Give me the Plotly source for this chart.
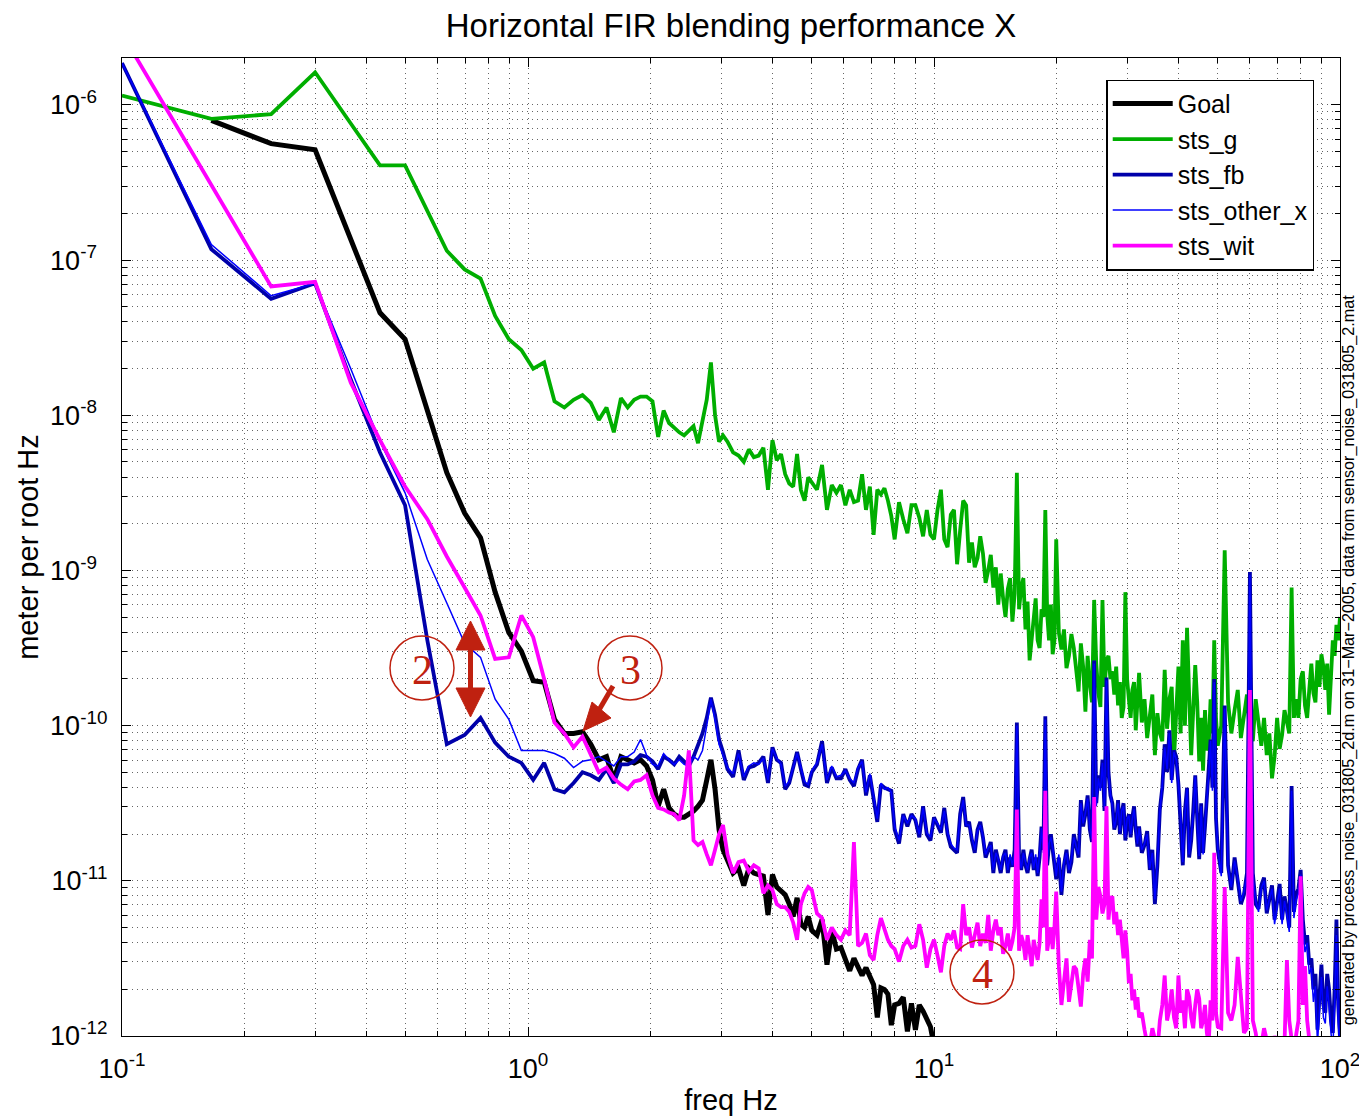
import plotly.graph_objects as go

# frequency grid in Hz (shared by all traces)
freq = [0.100, 0.166, 0.233, 0.299, 0.366, 0.432, 0.498, 0.565, 0.631, 0.698,
        0.764, 0.830, 0.897, 0.963, 1.030, 1.096, 1.162, 1.229, 1.295, 1.362,
        1.428, 1.494, 1.561, 1.627, 1.694, 1.760, 1.826, 1.893, 1.959, 2.026,
        2.092, 2.158, 2.225, 2.291, 2.358, 2.424, 2.490, 2.557, 2.623, 2.690,
        2.756, 2.822, 2.889, 2.955, 3.022,
        3.1, 3.2, 3.3, 3.4, 3.5, 3.6, 3.7, 3.8, 3.9, 4.0,
        4.1, 4.2, 4.3, 4.4, 4.5, 4.6, 4.7, 4.8, 4.9, 5.0,
        5.15, 5.3, 5.45, 5.6, 5.75, 5.9, 6.05, 6.2, 6.35, 6.5,
        6.65, 6.8, 6.95, 7.1, 7.25, 7.4, 7.55, 7.7, 7.85, 8.0,
        8.2, 8.4, 8.6, 8.8, 9.0, 9.2, 9.4, 9.6, 9.8, 10.0,
        10.2, 10.4, 10.6, 10.8, 11.0, 11.2, 11.4, 11.6, 11.8, 12.0,
        12.2, 12.4, 12.6, 12.8, 13.0, 13.2, 13.4, 13.6, 13.8, 14.0,
        14.2, 14.4, 14.6, 14.8, 15.0, 15.2, 15.4, 15.6, 15.8, 16.0,
        16.2, 16.4, 16.6, 16.8, 17.0, 17.2, 17.4, 17.6, 17.8, 18.0,
        18.2, 18.4, 18.6, 18.8, 19.0, 19.2, 19.4, 19.6, 19.8, 20.0,
        20.3, 20.6, 20.9, 21.2, 21.5, 21.8, 22.1, 22.4, 22.7, 23.0,
        23.3, 23.6, 23.9, 24.2, 24.5, 24.8, 25.1, 25.4, 25.7, 26.0,
        26.3, 26.6, 26.9, 27.2, 27.5, 27.8, 28.1, 28.4, 28.7, 29.0,
        29.3, 29.6, 29.9, 30.2, 30.5, 30.8, 31.1, 31.4, 31.7, 32.0,
        32.5, 33, 33.5, 34, 34.5, 35, 35.5, 36, 36.5, 37,
        37.5, 38, 38.5, 39, 39.5, 40, 40.5, 41, 41.5, 42,
        42.5, 43, 43.5, 44, 44.5, 45, 45.5, 46, 46.5, 47,
        47.5, 48, 48.5, 49, 49.5, 50,
        51, 52, 53, 54, 55, 56, 57, 58, 59, 60,
        61, 62, 63, 64, 65, 66, 67, 68, 69, 70,
        71, 72, 73, 74, 75, 76, 77, 78, 79, 80,
        81, 82, 83, 84, 85, 86, 87, 88, 89, 90,
        91, 92, 93, 94, 95, 96, 97, 98, 99, 100]

# spectra, stored as log10(meter/rtHz)
# Goal starts at the second frequency point
goal_exp = [-6.10, -6.25, -6.29, -6.87, -7.34, -7.51, -7.97, -8.37, -8.63, -8.79,
            -9.14, -9.40, -9.52, -9.71, -9.72, -9.96, -10.05, -10.05, -10.04, -10.12,
            -10.22, -10.20, -10.35, -10.20, -10.22, -10.24, -10.22, -10.26, -10.35, -10.52,
            -10.41, -10.53, -10.57, -10.59, -10.59, -10.57, -10.55, -10.52, -10.48, -10.35,
            -10.22, -10.41, -10.67, -10.80,
            -10.86, -10.95, -10.92, -11.03, -10.92, -10.95, -10.96, -10.97, -11.22, -10.96,
            -11.04, -11.07, -11.09, -11.15, -11.23, -11.11, -11.28, -11.30, -11.23, -11.32,
            -11.35, -11.25, -11.54, -11.32, -11.44, -11.43, -11.51, -11.58, -11.50, -11.56,
            -11.61, -11.56, -11.62, -11.67, -11.88, -11.69, -11.70, -11.73, -11.93, -11.80,
            -11.79, -11.75, -11.97, -11.79, -11.96, -11.80, -11.84, -11.90, -11.94, -12.06,
            -12.15, -12.30]

sts_g_exp = [-5.94, -6.09, -6.06, -5.79, -6.12, -6.39, -6.39, -6.68, -6.94, -7.06,
             -7.12, -7.36, -7.51, -7.58, -7.70, -7.66, -7.91, -7.95, -7.90, -7.87,
             -7.92, -8.03, -7.95, -8.11, -7.89, -7.95, -7.90, -7.88, -7.88, -7.91,
             -8.14, -7.97, -8.05, -8.08, -8.11, -8.13, -8.10, -8.07, -8.18, -8.05,
             -7.90, -7.66, -8.00, -8.17, -8.13,
             -8.17, -8.24, -8.26, -8.30, -8.22, -8.27, -8.26, -8.21, -8.48, -8.16,
             -8.29, -8.25, -8.38, -8.44, -8.46, -8.25, -8.48, -8.55, -8.40, -8.43,
             -8.48, -8.32, -8.61, -8.45, -8.50, -8.45, -8.58, -8.48, -8.56, -8.55,
             -8.38, -8.61, -8.46, -8.77, -8.48, -8.51, -8.47, -8.55, -8.65, -8.80,
             -8.56, -8.67, -8.76, -8.58, -8.58, -8.66, -8.78, -8.61, -8.77, -8.80,
             -8.61, -8.48, -8.80, -8.85, -8.64, -8.61, -8.96, -8.74, -8.55, -8.58,
             -8.95, -8.82, -8.98, -8.92, -8.78, -8.89, -9.08, -9.00, -8.90, -9.11,
             -8.98, -9.22, -9.02, -9.18, -9.30, -9.12, -9.05, -9.33, -9.15, -8.37,
             -9.25, -9.11, -9.05, -9.38, -9.20, -9.58, -9.45, -9.32, -9.18, -9.45,
             -9.50, -9.25, -9.30, -8.61, -9.28, -9.45, -9.22, -9.54, -9.45, -8.80,
             -9.40, -9.51, -9.38, -9.63, -9.55, -9.41, -9.50, -9.64, -9.78, -9.47,
             -9.62, -9.91, -9.55, -9.73, -9.85, -9.19, -9.60, -9.79, -9.88, -9.19,
             -9.75, -9.58, -9.55, -9.70, -9.65, -9.80, -9.62, -9.87, -9.72, -9.95,
             -9.88, -9.14, -9.70, -9.83, -9.95, -9.77, -9.72, -10.03, -9.85, -9.66,
             -9.98, -9.83, -10.08, -9.96, -9.80, -10.19, -9.92, -10.05, -10.10, -9.64,
             -10.02, -9.83, -9.75, -10.22, -9.95, -9.62, -10.05, -9.45, -10.00, -9.37,
             -9.80, -10.19, -9.90, -9.61, -9.85, -10.23, -9.95, -10.29, -9.90, -10.16,
             -10.12, -9.83, -10.05, -9.45, -9.95, -10.13,
             -10.00, -8.87, -9.85, -10.05, -9.90, -9.77, -10.08, -9.93, -9.80, -10.05,
             -10.10, -9.83, -9.98, -10.13, -9.95, -10.19, -10.05, -10.34, -10.20, -9.95,
             -10.15, -10.06, -9.90, -9.99, -10.05, -9.11, -9.95, -9.83, -9.95, -9.70,
             -9.65, -9.87, -9.95, -9.77, -9.60, -9.79, -9.85, -9.58, -9.75, -9.54,
             -9.62, -9.77, -9.60, -9.93, -9.70, -9.45, -9.55, -9.35, -9.45, -9.30]

sts_fb_exp = [-5.73, -6.93, -7.25, -7.15, -7.77, -8.24, -8.58, -9.45, -10.12, -10.06,
              -9.95, -10.11, -10.20, -10.24, -10.35, -10.24, -10.41, -10.43, -10.37, -10.30,
              -10.32, -10.35, -10.28, -10.37, -10.25, -10.25, -10.23, -10.19, -10.20, -10.23,
              -10.28, -10.20, -10.22, -10.25, -10.20, -10.23, -10.26, -10.20, -10.12, -10.05,
              -9.95, -9.82, -9.93, -10.09, -10.17,
              -10.28, -10.33, -10.16, -10.35, -10.27, -10.26, -10.24, -10.20, -10.37, -10.14,
              -10.22, -10.24, -10.41, -10.37, -10.27, -10.17, -10.28, -10.38, -10.39, -10.30,
              -10.25, -10.10, -10.37, -10.27, -10.34, -10.34, -10.28, -10.35, -10.39, -10.28,
              -10.22, -10.45, -10.32, -10.48, -10.62, -10.38, -10.40, -10.41, -10.42, -10.67,
              -10.76, -10.57, -10.65, -10.57, -10.61, -10.72, -10.52, -10.70, -10.74, -10.59,
              -10.64, -10.69, -10.53, -10.70, -10.78, -10.80, -10.82, -10.57, -10.46, -10.65,
              -10.62, -10.74, -10.82, -10.67, -10.62, -10.72, -10.85, -10.80, -10.75, -10.95,
              -10.80, -10.87, -10.95, -10.85, -10.80, -10.95, -10.85, -10.91, -10.80, -9.98,
              -10.85, -10.93, -10.80, -10.90, -10.95, -10.86, -10.80, -10.93, -10.85, -10.97,
              -10.85, -10.65, -10.80, -9.94, -10.90, -10.77, -10.70, -10.80, -10.88, -10.99,
              -10.85, -11.09, -10.90, -10.80, -10.95, -10.88, -10.70, -10.77, -10.85, -10.48,
              -10.65, -10.57, -10.45, -10.67, -10.75, -9.58, -10.50, -10.32, -10.40, -10.22,
              -10.55, -9.69, -10.30, -10.45, -10.50, -10.67, -10.62, -10.48, -10.70, -10.56,
              -10.50, -10.74, -10.62, -10.57, -10.72, -10.59, -10.52, -10.67, -10.78, -10.65,
              -10.82, -10.77, -10.68, -10.93, -10.80, -11.15, -10.90, -10.54, -10.40, -10.12,
              -10.30, -10.03, -10.35, -10.16, -10.20, -10.38, -10.60, -10.90, -10.55, -10.40,
              -10.85, -10.74, -10.55, -10.32, -10.60, -10.86, -10.50, -10.82, -10.65, -10.48,
              -10.30, -10.09, -10.40, -9.70, -10.60, -10.80,
              -10.95, -9.87, -10.90, -11.06, -10.85, -10.99, -11.15, -11.09, -10.95, -9.01,
              -10.95, -11.15, -11.18, -11.03, -10.98, -11.21, -11.10, -11.03, -11.25, -11.15,
              -11.02, -11.25, -11.10, -11.19, -11.30, -10.39, -11.20, -11.09, -11.05, -10.93,
              -11.25, -11.41, -11.35, -11.54, -11.50, -11.70, -11.60, -11.96, -11.75, -11.54,
              -11.80, -11.85, -11.60, -11.70, -11.90, -11.98, -11.70, -11.25, -11.80, -12.01]

sts_other_x_exp = [-5.73, -6.90, -7.23, -7.15, -7.70, -8.17, -8.50, -8.93, -9.21, -9.47,
                   -9.56, -9.83, -9.96, -10.16, -10.16, -10.16, -10.18, -10.21, -10.27, -10.23,
                   -10.22, -10.20, -10.23, -10.26, -10.20, -10.20, -10.17, -10.09, -10.19, -10.25,
                   -10.26, -10.18, -10.22, -10.25, -10.22, -10.25, -10.26, -10.20, -10.22, -10.16,
                   -10.00, -9.83, -9.96, -10.12, -10.19,
                   -10.27, -10.31, -10.18, -10.33, -10.26, -10.24, -10.25, -10.21, -10.35, -10.15,
                   -10.21, -10.25, -10.39, -10.36, -10.26, -10.18, -10.27, -10.36, -10.38, -10.29,
                   -10.24, -10.12, -10.35, -10.26, -10.33, -10.32, -10.29, -10.34, -10.37, -10.27,
                   -10.23, -10.43, -10.31, -10.47, -10.60, -10.37, -10.41, -10.40, -10.43, -10.65,
                   -10.74, -10.58, -10.63, -10.58, -10.60, -10.70, -10.53, -10.69, -10.72, -10.60,
                   -10.63, -10.67, -10.55, -10.69, -10.76, -10.79, -10.80, -10.58, -10.48, -10.64,
                   -10.64, -10.72, -10.80, -10.68, -10.64, -10.71, -10.83, -10.79, -10.77, -10.93,
                   -10.82, -10.86, -10.93, -10.84, -10.82, -10.93, -10.83, -10.90, -10.82, -10.00,
                   -10.83, -10.92, -10.82, -10.88, -10.93, -10.85, -10.82, -10.92, -10.83, -10.95,
                   -10.83, -10.66, -10.82, -9.96, -10.88, -10.76, -10.72, -10.79, -10.86, -10.97,
                   -10.83, -11.07, -10.88, -10.82, -10.93, -10.86, -10.72, -10.78, -10.83, -10.50,
                   -10.63, -10.56, -10.47, -10.66, -10.73, -9.60, -10.52, -10.34, -10.42, -10.24,
                   -10.53, -9.71, -10.32, -10.44, -10.52, -10.66, -10.60, -10.50, -10.68, -10.55,
                   -10.52, -10.72, -10.60, -10.58, -10.70, -10.60, -10.54, -10.66, -10.76, -10.66,
                   -10.80, -10.76, -10.70, -10.92, -10.82, -11.12, -10.88, -10.56, -10.38, -10.14,
                   -10.28, -10.05, -10.37, -10.17, -10.22, -10.37, -10.58, -10.88, -10.57, -10.41,
                   -10.83, -10.72, -10.57, -10.33, -10.58, -10.84, -10.52, -10.83, -10.63, -10.50,
                   -10.32, -10.10, -10.42, -9.72, -10.58, -10.79,
                   -10.97, -9.89, -10.92, -11.04, -10.87, -10.98, -11.13, -11.07, -10.97, -9.03,
                   -10.97, -11.13, -11.20, -11.05, -11.00, -11.19, -11.12, -11.05, -11.28, -11.17,
                   -11.05, -11.28, -11.13, -11.22, -11.33, -10.42, -11.24, -11.12, -11.08, -10.96,
                   -11.30, -11.46, -11.40, -11.60, -11.56, -11.78, -11.68, -12.05, -11.83, -11.62,
                   -11.88, -11.92, -11.68, -11.80, -11.98, -12.08, -11.80, -11.35, -11.90, -12.10]

sts_wit_exp = [-5.54, -6.52, -7.17, -7.14, -7.79, -8.16, -8.46, -8.67, -8.91, -9.11,
               -9.29, -9.57, -9.56, -9.29, -9.43, -9.70, -9.98, -10.05, -10.14, -10.07,
               -10.19, -10.30, -10.27, -10.34, -10.38, -10.41, -10.36, -10.35, -10.32, -10.45,
               -10.53, -10.54, -10.56, -10.57, -10.61, -10.45, -10.16, -10.74, -10.77, -10.75,
               -10.83, -10.90, -10.80, -10.70, -10.64,
               -10.83, -10.95, -10.88, -10.87, -10.94, -10.90, -10.92, -11.08, -11.03, -11.06,
               -11.15, -11.17, -11.17, -11.20, -11.27, -11.38, -11.15, -11.08, -11.04, -11.06,
               -11.21, -11.24, -11.38, -11.30, -11.35, -11.38, -11.32, -11.35, -10.75, -11.42,
               -11.40, -11.34, -11.48, -11.51, -11.35, -11.24, -11.32, -11.38, -11.42, -11.44,
               -11.52, -11.42, -11.38, -11.43, -11.42, -11.28, -11.38, -11.56, -11.44, -11.38,
               -11.48, -11.59, -11.42, -11.34, -11.38, -11.32, -11.43, -11.44, -11.15, -11.35,
               -11.30, -11.43, -11.35, -11.27, -11.42, -11.34, -11.40, -11.22, -11.45, -11.32,
               -11.25, -11.35, -11.30, -11.47, -11.42, -11.34, -11.45, -11.39, -11.30, -10.54,
               -11.45, -11.35, -11.40, -11.51, -11.35, -11.48, -11.55, -11.38, -11.45, -11.51,
               -11.40, -11.12, -11.30, -10.42, -11.45, -11.35, -11.30, -11.44, -11.30, -11.07,
               -11.55, -11.80, -11.62, -11.50, -11.78, -11.67, -11.55, -11.57, -11.70, -11.81,
               -11.60, -11.50, -11.65, -11.38, -11.50, -10.46, -11.25, -11.04, -11.10, -11.21,
               -11.15, -10.52, -11.25, -11.12, -11.10, -11.28, -11.20, -11.35, -11.25, -11.38,
               -11.50, -11.32, -11.45, -11.66, -11.60, -11.77, -11.70, -11.83, -11.75, -11.88,
               -11.85, -11.96, -12.05, -12.06, -11.95, -12.02, -12.10, -11.90, -11.80, -11.61,
               -11.90, -11.83, -11.70, -11.88, -11.95, -11.61, -11.85, -11.77, -11.95, -11.70,
               -11.75, -11.88, -11.95, -11.80, -11.70, -11.76, -11.95, -11.90, -11.80, -11.98,
               -12.05, -11.77, -11.90, -10.82, -11.85, -11.94,
               -11.95, -11.04, -11.85, -11.90, -11.80, -11.49, -11.75, -11.98, -11.95, -9.77,
               -11.90, -11.98, -12.10, -12.06, -11.95, -12.02, -12.10, -12.09, -12.00, -12.06,
               -12.15, -12.09, -12.05, -11.51, -11.90, -12.02, -12.10, -11.99, -11.90, -10.97,
               -11.80, -11.55, -11.90, -12.02, -12.10, -12.15, -12.20, -12.20]

for arr in (sts_g_exp, sts_fb_exp, sts_other_x_exp):
    assert len(arr) == len(freq), (len(arr), len(freq))
assert len(sts_wit_exp) <= len(freq) and len(goal_exp) + 1 <= len(freq)

series = [
    ("Goal", freq[1:1 + len(goal_exp)], goal_exp, "#000000", 5.0),
    ("sts_g", freq[:len(sts_g_exp)], sts_g_exp, "#00AE00", 3.8),
    ("sts_fb", freq[:len(sts_fb_exp)], sts_fb_exp, "#0000AA", 3.8),
    ("sts_other_x", freq[:len(sts_other_x_exp)], sts_other_x_exp, "#0000FF", 1.5),
    ("sts_wit", freq[:len(sts_wit_exp)], sts_wit_exp, "#FF00FF", 3.8),
]

fig = go.Figure()
for name, f, e, col, w in series:
    fig.add_trace(go.Scatter(x=f, y=[10 ** v for v in e], name=name, mode="lines",
                             line=dict(color=col, width=w)))

red = "#BF2110"
font = "Liberation Sans, Arial, sans-serif"
grid = "rgba(0,0,0,0.6)"
dots = "1px,4px"

xminor = [m * 10 ** p for p in range(-1, 2) for m in range(2, 10)]
yminor = [m * 10.0 ** p for p in range(-12, -5) for m in range(2, 10)]

axis_common = dict(type="log", ticks="inside", ticklen=9, tickcolor="black",
                   showline=True, linecolor="black", linewidth=1.3, mirror="allticks",
                   showgrid=True, gridcolor=grid, griddash=dots, gridwidth=1,
                   zeroline=False, ticklabeloverflow="allow", automargin=False,
                   tickfont=dict(size=27, color="black"))

# single-digit exponents get a figure-space pad so the "10" parts line up like the original
pad = "\u2007"

fig.update_layout(
    width=1359, height=1116,
    margin=dict(l=122, r=19, t=58, b=80, autoexpand=False),
    paper_bgcolor="white", plot_bgcolor="white",
    font=dict(family=font, color="black"),
    title=dict(text="Horizontal FIR blending performance X", x=0.5, xref="paper",
               xanchor="center", y=1 - 25 / 1116, yref="container", yanchor="middle",
               font=dict(size=33)),
    xaxis=dict(axis_common, range=[-1, 2], tickmode="array",
               tickvals=[0.1, 1, 10, 100],
               ticktext=["10<sup>-1</sup>", "10<sup>0</sup>", "10<sup>1</sup>", "10<sup>2</sup>"],
               ticklabelstandoff=8,
               minor=dict(tickvals=xminor, ticks="inside", ticklen=5, tickcolor="black",
                          showgrid=True, gridcolor=grid, griddash=dots),
               title=dict(text="freq Hz", font=dict(size=29), standoff=10)),
    yaxis=dict(axis_common, range=[-12, -5.698], tickmode="array",
               tickvals=[1e-12, 1e-11, 1e-10, 1e-9, 1e-8, 1e-7, 1e-6],
               ticktext=["10<sup>-12</sup>", "10<sup>-11</sup>", "10<sup>-10</sup>",
                         "10<sup>-9" + pad + "</sup>", "10<sup>-8" + pad + "</sup>",
                         "10<sup>-7" + pad + "</sup>", "10<sup>-6" + pad + "</sup>"],
               ticklabelstandoff=8,
               minor=dict(tickvals=yminor, ticks="inside", ticklen=5, tickcolor="black",
                          showgrid=True, gridcolor=grid, griddash=dots),
               title=dict(text="meter per root Hz", font=dict(size=29), standoff=2)),
    legend=dict(x=0.979, xanchor="right", y=0.978, yanchor="top",
                bgcolor="white", bordercolor="black", borderwidth=1.3,
                font=dict(size=25), tracegroupgap=0, itemwidth=60),
    showlegend=True,
)

# note along the right edge
fig.add_annotation(text="generated by process_noise_031805_2d.m on 31\u2212Mar\u22122005, "
                        "data from sensor_noise_031805_2.mat",
                   xref="paper", yref="paper", x=1.0072, y=0.384, textangle=-90,
                   xanchor="center", yanchor="middle",
                   showarrow=False, font=dict(size=16.2, color="black"))


# circled markers (paper coordinates of the plot box)
def px(x):
    return (x - 122) / 1218


def py(y):
    return (1036 - y) / 978


for label, cx, cy in [("2", 422, 668), ("3", 630, 668), ("4", 982, 972)]:
    fig.add_shape(type="circle", xref="paper", yref="paper",
                  x0=px(cx - 32), x1=px(cx + 32), y0=py(cy + 32), y1=py(cy - 32),
                  line=dict(color=red, width=1.5))
    fig.add_annotation(text=label, xref="paper", yref="paper", x=px(cx), y=py(cy + 2),
                       xanchor="center", yanchor="middle", showarrow=False,
                       font=dict(family="Liberation Serif, Times New Roman, serif",
                                 size=42, color=red))

# double-headed arrow near marker 2
fig.add_shape(type="line", xref="paper", yref="paper", x0=px(470.5), x1=px(470.5),
              y0=py(646), y1=py(692), line=dict(color=red, width=5))
fig.add_shape(type="path", xref="paper", yref="paper", fillcolor=red, line=dict(color=red, width=1),
              path=f"M{px(470.5)},{py(621)} L{px(456)},{py(650)} L{px(485)},{py(650)} Z")
fig.add_shape(type="path", xref="paper", yref="paper", fillcolor=red, line=dict(color=red, width=1),
              path=f"M{px(470.5)},{py(717)} L{px(456)},{py(688)} L{px(485)},{py(688)} Z")

# arrow from marker 3
fig.add_shape(type="line", xref="paper", yref="paper", x0=px(613), y0=py(686),
              x1=px(599), y1=py(710), line=dict(color=red, width=5))
fig.add_shape(type="path", xref="paper", yref="paper", fillcolor=red, line=dict(color=red, width=1),
              path=f"M{px(583)},{py(731)} L{px(611)},{py(718)} L{px(592)},{py(702)} Z")

# page body has a default 8px margin; drop it so the figure sits at the window origin
fig.write_html("out.html", config={"displayModeBar": False},
               post_script="document.body.style.margin='0px';")
